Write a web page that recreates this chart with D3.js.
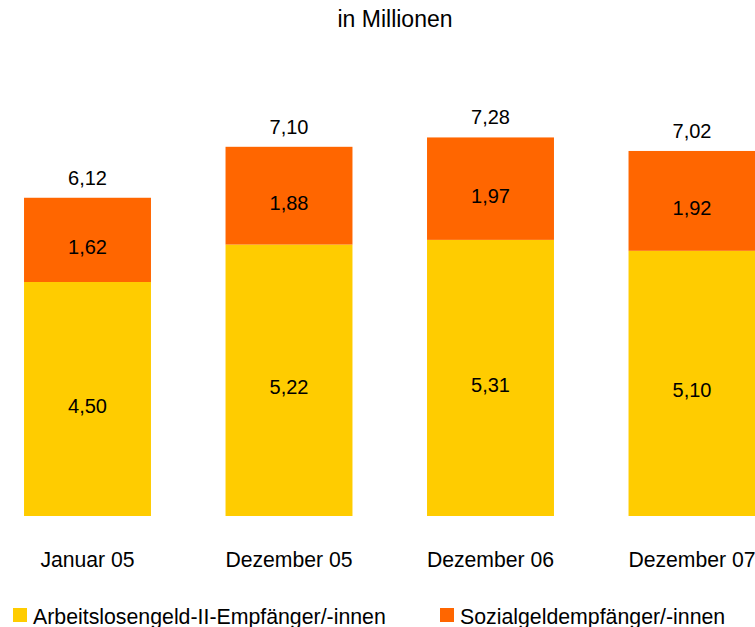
<!DOCTYPE html>
<html><head><meta charset="utf-8">
<script src="https://cdn.jsdelivr.net/npm/d3@7"></script>
<style>
html,body{margin:0;padding:0;background:#fff;}
svg{display:block;font-family:"Liberation Sans",Arial,sans-serif;}
</style></head>
<body><svg id="chart" width="755" height="627"></svg>
<script>
const categories = ["Januar 05", "Dezember 05", "Dezember 06", "Dezember 07"];
const alg2 = [4.50, 5.22, 5.31, 5.10];
const sozialgeld = [1.62, 1.88, 1.97, 1.92];
const totals = [6.12, 7.10, 7.28, 7.02];
const seriesNames = ["Arbeitslosengeld-II-Empfänger/-innen", "Sozialgeldempfänger/-innen"];
const colors = ["#FFCC00", "#FF6600"];
const title = "in Millionen";

const svg = d3.select("#chart");
const fmt = v => d3.format(".2f")(v).replace(".", ",");

const x = d3.scaleBand().domain(categories).range([-13.25, 792.75]).paddingInner(0.37).paddingOuter(0.185);
const y = d3.scaleLinear().domain([0, 8]).range([516, 100]);

const rows = categories.map((c, i) => ({cat: c, a: alg2[i], s: sozialgeld[i], t: totals[i]}));
const stack = d3.stack().keys(["a", "s"])(rows);

svg.append("text").attr("x", 395).attr("y", 27).attr("text-anchor", "middle")
  .attr("font-size", 23).attr("fill", "#000").text(title);

stack.forEach((layer, li) => {
  const g = svg.append("g");
  g.selectAll("rect").data(layer).join("rect")
    .attr("x", d => x(d.data.cat))
    .attr("width", x.bandwidth())
    .attr("y", d => y(d[1]))
    .attr("height", d => y(d[0]) - y(d[1]))
    .attr("fill", colors[li]);
  g.selectAll("text").data(layer).join("text")
    .attr("x", d => x(d.data.cat) + x.bandwidth() / 2)
    .attr("y", d => (y(d[0]) + y(d[1])) / 2 + 14)
    .attr("text-anchor", "middle").attr("font-size", 20).attr("fill", "#000")
    .text(d => fmt(d[1] - d[0]));
});

svg.append("g").selectAll("text").data(rows).join("text")
  .attr("x", d => x(d.cat) + x.bandwidth() / 2)
  .attr("y", d => y(d.t) - 13)
  .attr("text-anchor", "middle").attr("font-size", 20).attr("fill", "#000")
  .text(d => fmt(d.t));

const xAxis = svg.append("g").attr("transform", "translate(0,516)")
  .call(d3.axisBottom(x).tickSize(0).tickPadding(0));
xAxis.select(".domain").remove();
xAxis.selectAll("text").attr("font-size", 21.2).attr("fill", "#000")
  .attr("font-family", "'Liberation Sans', Arial, sans-serif")
  .attr("dy", null).attr("y", 51);

const legendX = [13, 440];
const lg = svg.append("g");
seriesNames.forEach((n, i) => {
  lg.append("rect").attr("x", legendX[i]).attr("y", 608).attr("width", 14).attr("height", 14).attr("fill", colors[i]);
  lg.append("text").attr("x", legendX[i] + 20).attr("y", 624).attr("font-size", 21.3).attr("fill", "#000").text(n);
});
</script></body></html>
